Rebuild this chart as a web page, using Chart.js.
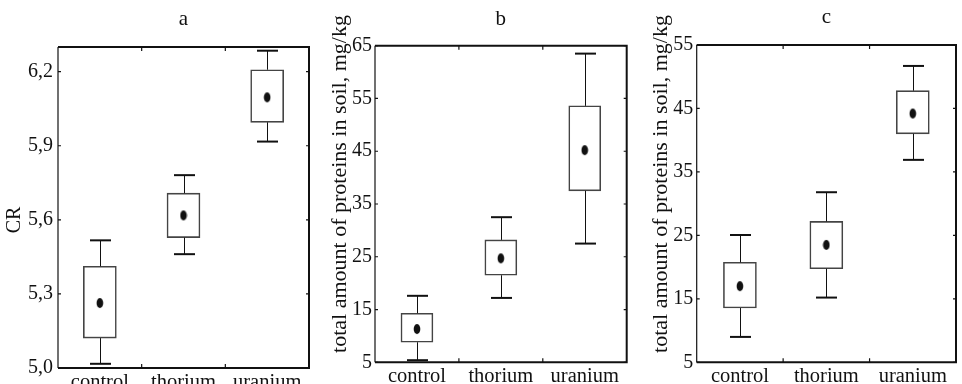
<!DOCTYPE html>
<html>
<head>
<meta charset="utf-8">
<script src="https://cdn.jsdelivr.net/npm/chart.js@4/dist/chart.umd.min.js"></script>
<style>
    html, body { margin: 0; padding: 0; background: #fff; overflow: hidden; }
    body { width: 962px; height: 384px; position: relative; }
    canvas { position: absolute; top: 0; }
</style>
</head>
<body>
<canvas id="chartA" width="320" height="400" style="left:0px"></canvas>
<canvas id="chartB" width="318" height="384" style="left:320px"></canvas>
<canvas id="chartC" width="324" height="384" style="left:638px"></canvas>
<script>
// data

const groups = ['control', 'thorium', 'uranium'];

// a: CR
const meanA = [5.263, 5.618, 6.096];
const boxLowA = [5.121, 5.528, 5.995];
const boxHighA = [5.412, 5.708, 6.208];
const whiskLowA = [5.017, 5.461, 5.917];
const whiskHighA = [5.517, 5.781, 6.285];
const ticksA = [5.0, 5.3, 5.6, 5.9, 6.2];

// b: total proteins
const meanB = [11.3, 24.7, 45.2];
const boxLowB = [8.8, 21.5, 37.5];
const boxHighB = [14.3, 28.2, 53.6];
const whiskLowB = [5.4, 17.2, 27.5];
const whiskHighB = [17.6, 32.5, 63.5];
const ticksB = [5, 15, 25, 35, 45, 55, 65];

// c: total proteins
const meanC = [17.0, 23.5, 44.2];
const boxLowC = [13.55, 19.75, 41.0];
const boxHighC = [20.75, 27.2, 47.8];
const whiskLowC = [9.0, 15.2, 36.9];
const whiskHighC = [25.06, 31.8, 51.7];
const ticksC = [5, 15, 25, 35, 45, 55];

const proteinLabel = 'total amount of proteins in soil, mg/kg';

const FONT = '"Liberation Serif", "Times New Roman", serif';
const INK = '#111';

// elliptical mean marker
const dot = document.createElement('canvas');
dot.width = 8;
dot.height = 12;
const dctx = dot.getContext('2d');
dctx.fillStyle = '#111';
dctx.beginPath();
dctx.ellipse(4, 6, 3.3, 5, 0, 0, Math.PI * 2);
dctx.fill();

// frame, inward ticks, whiskers, rotated y title
const boxPlotExtras = {
    id: 'boxExtras',
    afterDatasetsDraw(chart, args, opts) {
        const ctx = chart.ctx;
        const x = chart.scales.x;
        const y = chart.scales.y;
        const area = chart.chartArea;

        ctx.save();
        ctx.strokeStyle = '#111';

        // whiskers
        opts.low.forEach((lo, i) => {
            const cx = Math.round(x.getPixelForValue(i)) + 0.5;
            const pairs = [[lo, opts.boxLow[i]], [opts.high[i], opts.boxHigh[i]]];
            pairs.forEach(([end, edge]) => {
                const pe = y.getPixelForValue(end);
                const pb = y.getPixelForValue(edge);
                ctx.lineWidth = 1;
                ctx.beginPath();
                ctx.moveTo(cx, pb);
                ctx.lineTo(cx, pe);
                ctx.stroke();
                ctx.lineWidth = 2;
                ctx.beginPath();
                ctx.moveTo(cx - opts.cap / 2, pe);
                ctx.lineTo(cx + opts.cap / 2, pe);
                ctx.stroke();
            });
        });

        // frame
        ctx.lineWidth = 1.2;
        ctx.beginPath();
        ctx.moveTo(area.left, area.top);
        ctx.lineTo(area.left, area.bottom);
        ctx.stroke();
        ctx.lineWidth = 2;
        ctx.beginPath();
        ctx.moveTo(area.left, area.top);
        ctx.lineTo(area.right, area.top);
        ctx.lineTo(area.right, area.bottom);
        ctx.lineTo(area.left, area.bottom);
        ctx.stroke();

        // inward tick marks
        ctx.lineWidth = 1.2;
        y.ticks.forEach(t => {
            const py = y.getPixelForValue(t.value);
            ctx.beginPath();
            ctx.moveTo(area.left, py);
            ctx.lineTo(area.left + 3, py);
            ctx.moveTo(area.right, py);
            ctx.lineTo(area.right - 3, py);
            ctx.stroke();
        });
        for (let i = 1; i < groups.length; i++) {
            const px = (x.getPixelForValue(i - 1) + x.getPixelForValue(i)) / 2;
            ctx.beginPath();
            ctx.moveTo(px, area.top);
            ctx.lineTo(px, area.top + 4);
            ctx.moveTo(px, area.bottom);
            ctx.lineTo(px, area.bottom - 4);
            ctx.stroke();
        }

        // y title
        ctx.fillStyle = INK;
        ctx.font = opts.titleSize + 'px ' + FONT;
        ctx.translate(opts.titleX, opts.titleY);
        ctx.rotate(-Math.PI / 2);
        ctx.textAlign = 'center';
        ctx.textBaseline = 'middle';
        ctx.fillText(opts.title, 0, 0);
        ctx.restore();
    }
};

const makePanel = (id, p) => {
    return new Chart(document.getElementById(id), {
        type: 'bar',
        data: {
            labels: groups,
            datasets: [
                {
                    type: 'line',
                    data: p.mean,
                    showLine: false,
                    pointStyle: dot,
                    pointRadius: 5,
                    order: 1,
                },
                {
                    data: p.boxLow.map((v, i) => [v, p.boxHigh[i]]),
                    backgroundColor: '#fff',
                    borderColor: '#444',
                    borderWidth: 1.6,
                    borderSkipped: false,
                    barThickness: p.barWidth,
                    order: 2,
                },
            ],
        },
        options: {
            responsive: false,
            animation: false,
            layout: { padding: { left: 0, right: p.padRight, top: 0, bottom: 0 } },
            plugins: {
                legend: { display: false },
                tooltip: { enabled: false },
                title: {
                    display: true,
                    text: p.letter,
                    fullSize: false,
                    color: INK,
                    font: { family: FONT, size: 21, weight: 'normal', lineHeight: 1.2 },
                    padding: { top: p.titleTop, bottom: p.titleBottom },
                },
                boxExtras: {
                    low: p.whiskLow,
                    high: p.whiskHigh,
                    boxLow: p.boxLow,
                    boxHigh: p.boxHigh,
                    cap: 21,
                    title: p.yTitle,
                    titleX: p.yTitleX,
                    titleY: p.yTitleY,
                    titleSize: p.yTitleSize,
                },
            },
            scales: {
                x: {
                    offset: true,
                    grid: { display: false },
                    border: { display: false },
                    ticks: { color: INK, padding: -6, font: { family: FONT, size: 20.5 } },
                    afterFit: scale => { scale.height = p.xHeight; },
                },
                y: {
                    min: p.ticks[0],
                    max: p.max,
                    grid: { display: false, drawTicks: false },
                    border: { display: false },
                    afterBuildTicks: scale => { scale.ticks = p.ticks.map(v => ({ value: v })); },
                    ticks: {
                        color: INK,
                        padding: p.tickPad,
                        font: { family: FONT, size: 20 },
                        callback: v => p.decimals ? v.toFixed(p.decimals).replace('.', ',') : String(v),
                    },
                    afterFit: scale => { scale.width = p.yWidth; },
                },
            },
        },
        plugins: [boxPlotExtras],
    });
}

makePanel('chartA', {
    letter: 'a', mean: meanA, boxLow: boxLowA, boxHigh: boxHighA,
    whiskLow: whiskLowA, whiskHigh: whiskHighA, ticks: ticksA, max: 6.3, decimals: 1,
    yTitle: 'CR', yTitleX: 15, yTitleY: 220, yTitleSize: 20,
    yWidth: 58, padRight: 11, xHeight: 32, titleTop: 6.4, titleBottom: 15.4,
    tickPad: 5, barWidth: 33,
});

makePanel('chartB', {
    letter: 'b', mean: meanB, boxLow: boxLowB, boxHigh: boxHighB,
    whiskLow: whiskLowB, whiskHigh: whiskHighB, ticks: ticksB, max: 65, decimals: 0,
    yTitle: proteinLabel, yTitleX: 20, yTitleY: 184, yTitleSize: 22,
    yWidth: 55, padRight: 11.3, xHeight: 21.7, titleTop: 6.4, titleBottom: 14.1,
    tickPad: 3, barWidth: 32,
});

makePanel('chartC', {
    letter: 'c', mean: meanC, boxLow: boxLowC, boxHigh: boxHighC,
    whiskLow: whiskLowC, whiskHigh: whiskHighC, ticks: ticksC, max: 55, decimals: 0,
    yTitle: proteinLabel, yTitleX: 23, yTitleY: 184, yTitleSize: 22,
    yWidth: 58.7, padRight: 1.3, xHeight: 21.7, titleTop: 4.7, titleBottom: 15.1,
    tickPad: 3.4, barWidth: 33,
});
</script>
</body>
</html>
